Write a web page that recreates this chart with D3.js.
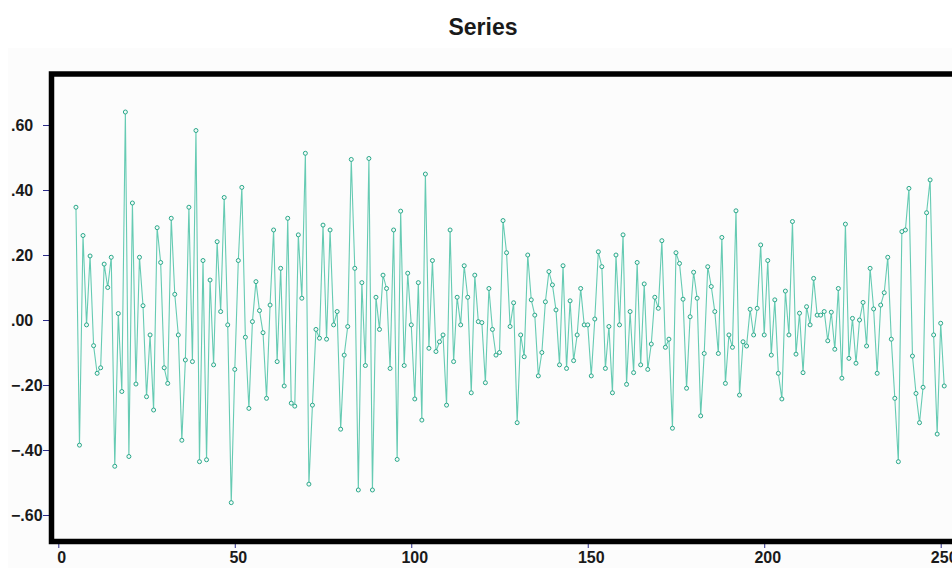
<!DOCTYPE html>
<html>
<head>
<meta charset="utf-8">
<title>Series</title>
<script src="https://d3js.org/d3.v7.min.js"></script>
<style>
  body { margin: 0; background: #ffffff; }
  svg { display: block; }
  text { font-family: "Liberation Sans", Arial, sans-serif; fill: #1a1a1a; }
</style>
</head>
<body>
<svg id="chart" width="952" height="568"></svg>
<script>
// series values, x starts at 5 and goes up by one
var firstX = 5;
var values = [
  0.347, -0.385, 0.26, -0.015, 0.197, -0.079, -0.164, -0.147, 0.172, 0.10,
  0.193, -0.45, 0.02, -0.22, 0.64, -0.42, 0.36, -0.197, 0.193, 0.044,
  -0.236, -0.046, -0.277, 0.284, 0.177, -0.147, -0.195, 0.313, 0.079, -0.046,
  -0.37, -0.123, 0.347, -0.128, 0.583, -0.436, 0.183, -0.43, 0.123, -0.138,
  0.241, 0.026, 0.377, -0.015, -0.562, -0.152, 0.183, 0.408, -0.053, -0.272,
  -0.005, 0.118, 0.029, -0.039, -0.241, 0.046, 0.277, -0.128, 0.159, -0.203,
  0.313, -0.256, -0.265, 0.262, 0.067, 0.513, -0.505, -0.262, -0.029, -0.056,
  0.292, -0.059, 0.277, -0.015, 0.026, -0.336, -0.108, -0.02, 0.494, 0.159,
  -0.523, 0.115, -0.14, 0.497, -0.523, 0.07, -0.029, 0.138, 0.097, -0.149,
  0.277, -0.429, 0.335, -0.14, 0.144, -0.015, -0.243, 0.115, -0.308, 0.449,
  -0.087, 0.183, -0.097, -0.067, -0.046, -0.262, 0.277, -0.128, 0.07, -0.015,
  0.167, 0.07, -0.224, 0.138, -0.005, -0.008, -0.193, 0.097, -0.029, -0.108,
  -0.1, 0.306, 0.207, -0.02, 0.053, -0.316, -0.046, -0.113, 0.2, 0.062,
  0.015, -0.172, -0.1, 0.056, 0.149, 0.108, 0.031, -0.138, 0.167, -0.149,
  0.059, -0.125, -0.046, 0.097, -0.015, -0.015, -0.172, 0.003, 0.21, 0.164,
  -0.149, -0.02, -0.224, 0.2, -0.015, 0.262, -0.198, 0.026, -0.162, 0.177,
  -0.138, 0.111, -0.152, -0.074, 0.07, 0.036, 0.244, -0.084, -0.059, -0.333,
  0.207, 0.174, 0.064, -0.21, 0.01, 0.147, 0.067, -0.295, -0.103, 0.164,
  0.103, 0.026, -0.103, 0.254, -0.195, -0.046, -0.084, 0.336, -0.231, -0.067,
  -0.08, 0.033, -0.046, 0.036, 0.231, -0.046, 0.183, -0.108, 0.062, -0.164,
  -0.243, 0.089, -0.046, 0.303, -0.105, 0.021, -0.162, 0.041, -0.015, 0.128,
  0.015, 0.015, 0.026, -0.064, 0.024, -0.09, 0.097, -0.179, 0.295, -0.118,
  0.005, -0.133, 0.0, 0.054, -0.08, 0.159, 0.034, -0.164, 0.046, 0.084,
  0.193, -0.059, -0.241, -0.436, 0.272, 0.277, 0.405, -0.111, -0.226, -0.316,
  -0.207, 0.33, 0.431, -0.046, -0.351, -0.01, -0.203
];
var xTicks = [0, 50, 100, 150, 200, 250];
var yTicks = [-0.6, -0.4, -0.2, 0, 0.2, 0.4, 0.6];
var title = "Series";

var svg = d3.select("#chart");

// frame geometry (plain names like "top" clash with window.top)
var frameL = 51.5, frameT = 74, frameB = 541.5, frameR = 990;

var x = d3.scaleLinear().domain([0, 250]).range([58.3, 940.7]);
var y = d3.scaleLinear().domain([-0.6, 0.6]).range([515, 125]);

var fmt = function(d) {
  return d3.format(".2f")(d).replace("0.", ".");
};

// faint panel behind the plot
svg.append("rect")
  .attr("x", 8).attr("y", 48)
  .attr("width", 960).attr("height", 530)
  .attr("fill", "#fcfcfc");

svg.append("text")
  .attr("x", 483).attr("y", 35)
  .attr("text-anchor", "middle")
  .style("font-size", "23px")
  .style("font-weight", "bold")
  .text(title);

var data = values.map(function(v, i) { return { x: firstX + i, v: v }; });

var line = d3.line()
  .x(function(d) { return x(d.x); })
  .y(function(d) { return y(d.v); });

svg.append("path")
  .datum(data)
  .attr("fill", "none")
  .attr("stroke", "#66cbb3")
  .attr("stroke-width", 1.1)
  .attr("d", line);

svg.append("g").selectAll("circle")
  .data(data)
  .join("circle")
  .attr("cx", function(d) { return x(d.x); })
  .attr("cy", function(d) { return y(d.v); })
  .attr("r", 2)
  .attr("fill", "#f4fbf9")
  .attr("stroke", "#2aa88a")
  .attr("stroke-width", 1);

// y axis ticks
var yAxis = svg.append("g")
  .attr("transform", "translate(" + (frameL - 2.5) + ",0)")
  .call(d3.axisLeft(y).tickValues(yTicks).tickSize(6).tickFormat(fmt));
yAxis.select(".domain").remove();
yAxis.selectAll("line").attr("stroke", "#2b2b8a");
yAxis.selectAll("text")
  .attr("x", -38).attr("dy", "0.35em")
  .attr("text-anchor", "start")
  .style("font-size", "16px")
  .style("font-weight", "bold")
  .style("fill", "#1a1a1a");

// x axis ticks
var xAxis = svg.append("g")
  .attr("transform", "translate(0," + (frameB + 2.5) + ")")
  .call(d3.axisBottom(x).tickValues(xTicks).tickSize(4).tickFormat(d3.format("d")));
xAxis.select(".domain").remove();
xAxis.selectAll("line").attr("stroke", "#2b2b8a");
xAxis.selectAll("text")
  .attr("y", 8).attr("dx", 3)
  .style("font-size", "16px")
  .style("font-weight", "bold")
  .style("fill", "#1a1a1a");

// thick black frame
svg.append("rect")
  .attr("x", frameL).attr("y", frameT)
  .attr("width", frameR - frameL).attr("height", frameB - frameT)
  .attr("fill", "none")
  .attr("stroke", "#000")
  .attr("stroke-width", 5.5);
</script>
</body>
</html>
